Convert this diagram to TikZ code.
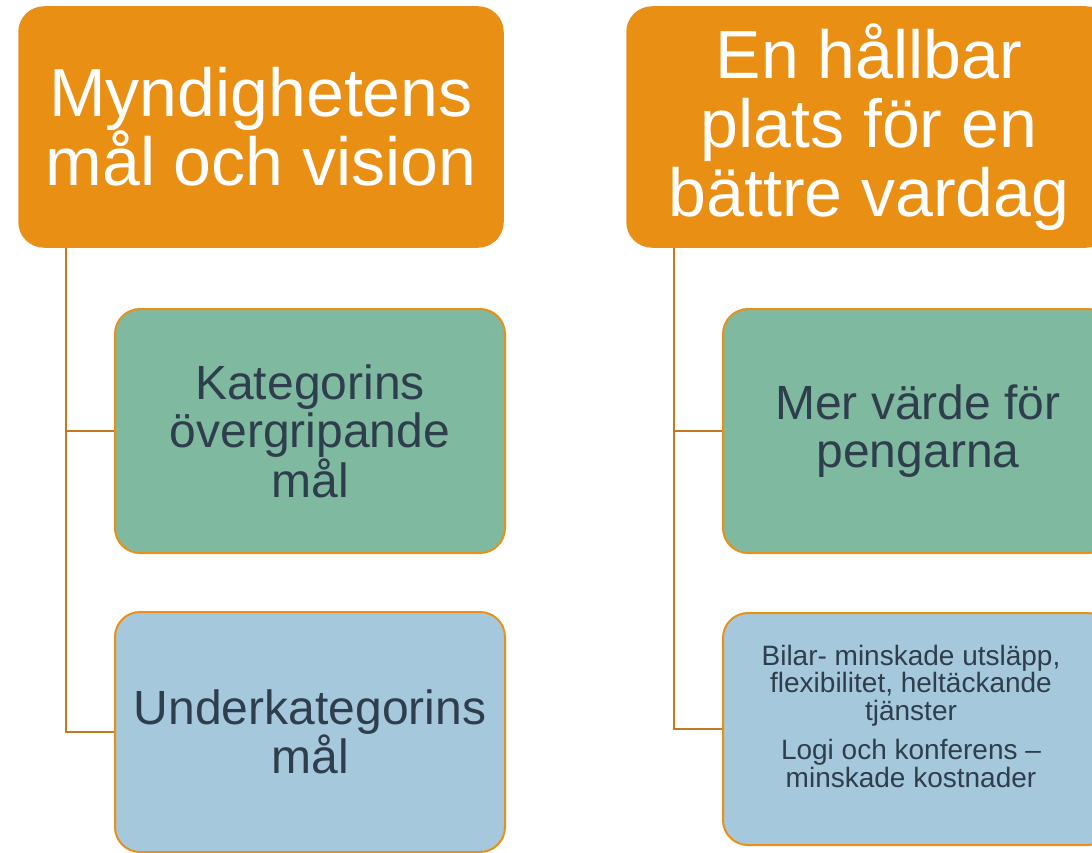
\documentclass[tikz,border=0pt]{standalone}
\usepackage{fontspec}
\setmainfont{Liberation Sans}
\definecolor{orfill}{RGB}{233,143,20}
\definecolor{orline}{RGB}{232,144,26}
\definecolor{conn}{RGB}{193,122,30}
\definecolor{grfill}{RGB}{127,185,159}
\definecolor{blfill}{RGB}{165,200,220}
\definecolor{txt}{RGB}{47,62,77}
\tikzset{
  topbox/.style={draw=orline, line width=1.5pt, fill=orfill, rounded corners=25pt,
    minimum width=484pt, minimum height=240pt, inner sep=0pt, align=center,
    text=white, font=\fontsize{68}{69}\selectfont},
  subbox/.style={draw=orline, line width=2pt, rounded corners=25pt,
    minimum width=390pt, inner sep=0pt, align=center,
    text=txt, font=\fontsize{48}{48.5}\selectfont},
  greenbox/.style={subbox, fill=grfill, minimum height=244pt},
  bluebox/.style={subbox, fill=blfill},
  smalltext/.style={align=center, text=txt, inner sep=0pt, font=\fontsize{28}{27.5}\selectfont},
  connector/.style={draw=conn, line width=2pt}
}
\begin{document}
\begin{tikzpicture}[x=1pt,y=-1pt]
\useasboundingbox (0,0) rectangle (1092,853);
% left column
\node[topbox] (lt) at (261,127) {Myndighetens\\mål och vision};
\node[greenbox] (lg) at (310,431) {Kategorins\\övergripande\\mål};
\node[bluebox, minimum height=240pt] (lb) at (310,732) {Underkategorins\\mål};
\draw[connector] ([xshift=48pt]lt.south west) |- (lg.west);
\draw[connector] ([xshift=48pt]lt.south west) |- (lb.west);
% right column
\node[topbox] (rt) at (869,127) {En hållbar\\plats för en\\bättre vardag};
\node[greenbox] (rg) at (918,431) {Mer värde för\\pengarna};
\node[bluebox, minimum height=232pt] (rb) at (918,729) {};
\node[smalltext] (rbt) at (911,716) {Bilar- minskade utsläpp,\\flexibilitet, heltäckande\\tjänster\\[12pt]Logi och konferens –\\minskade kostnader};
\draw[connector] ([xshift=48pt]rt.south west) |- (rb.west);
\draw[connector] ([xshift=48pt]rt.south west) |- (rg.west);
\end{tikzpicture}
\end{document}
